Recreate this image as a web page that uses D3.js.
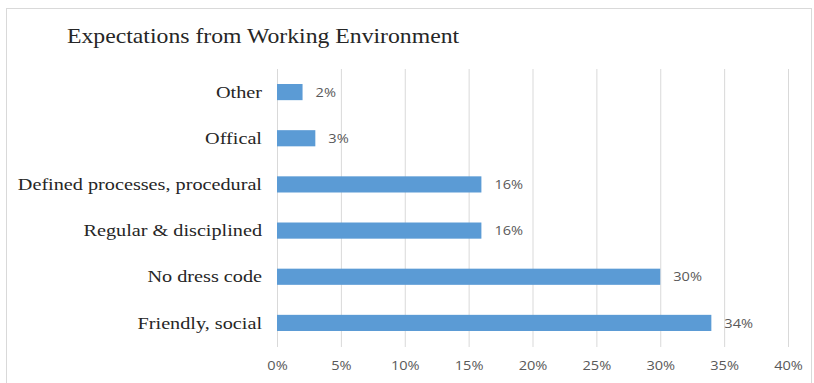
<!DOCTYPE html>
<html><head><meta charset="utf-8">
<script src="https://cdn.jsdelivr.net/npm/d3@7"></script>
<style>body{margin:0;background:#fff;}</style>
</head><body>
<script>
const categories = ["Other", "Offical", "Defined processes, procedural", "Regular & disciplined", "No dress code", "Friendly, social"];
const values = [0.02, 0.03, 0.16, 0.16, 0.30, 0.34];
const valueLabels = ["2%", "3%", "16%", "16%", "30%", "34%"];
const tickValues = [0, 0.05, 0.10, 0.15, 0.20, 0.25, 0.30, 0.35, 0.40];
const title = "Expectations from Working Environment";

(function () {
const W = 814, H = 383;
const svg = d3.select("body").append("svg").attr("width", W).attr("height", H);
svg.append("rect").attr("x", 6.5).attr("y", 8.5).attr("width", W - 9).attr("height", H - 8)
  .attr("fill", "#fff").attr("stroke", "#d9d9d9");

const pLeft = 277, pRight = 788, pTop = 69, pBottom = 346;
const x = d3.scaleLinear().domain([0, 0.40]).range([pLeft, pRight]);
const y = d3.scaleBand().domain(categories).range([pTop, pBottom]).paddingInner(0.65).paddingOuter(0.325);
const sans = "'Open Sans', 'DejaVu Sans', sans-serif";
const serif = "'Liberation Serif', 'Times New Roman', serif";

// gridlines
svg.append("g").selectAll("line").data(tickValues).join("line")
  .attr("x1", d => x(d) + 0.5).attr("x2", d => x(d) + 0.5)
  .attr("y1", pTop).attr("y2", pBottom + 1)
  .attr("stroke", "#d9d9d9").attr("stroke-width", 1);

// axis tick labels
const xAxis = d3.axisBottom(x).tickValues(tickValues).tickFormat(d3.format(".0%")).tickSize(0).tickPadding(14);
const gx = svg.append("g").attr("transform", `translate(0,${pBottom})`).call(xAxis);
gx.select(".domain").remove();
gx.selectAll("text").attr("font-family", sans).attr("font-size", 13.5).attr("fill", "#595959")
  .attr("transform", "scale(1.08,1)").attr("x", 0);
gx.selectAll(".tick").each(function () {
  // keep labels centred on their tick after the horizontal stretch
});

// bars
svg.append("g").selectAll("rect").data(categories).join("rect")
  .attr("x", x(0)).attr("y", d => y(d))
  .attr("width", (d, i) => x(values[i]) - x(0))
  .attr("height", y.bandwidth())
  .attr("fill", "#5b9bd5");

// value labels
svg.append("g").selectAll("text").data(categories).join("text")
  .attr("transform", (d, i) => `translate(${x(values[i]) + 13},${y(d) + y.bandwidth() / 2}) scale(1.08,1)`)
  .attr("dy", "0.35em")
  .attr("font-family", sans).attr("font-size", 13.5).attr("fill", "#595959")
  .text((d, i) => valueLabels[i]);

// category labels
svg.append("g").selectAll("text").data(categories).join("text")
  .attr("transform", d => `translate(${pLeft - 15},${y(d) + y.bandwidth() / 2}) scale(1.19,1)`)
  .attr("dy", "0.33em").attr("text-anchor", "end")
  .attr("font-family", serif).attr("font-size", 17).attr("fill", "#262626")
  .text(d => d);

// title
svg.append("text").attr("transform", "translate(67,43) scale(1.13,1)")
  .attr("font-family", serif).attr("font-size", 21).attr("fill", "#262626")
  .text(title);
})();
</script>
</body></html>
